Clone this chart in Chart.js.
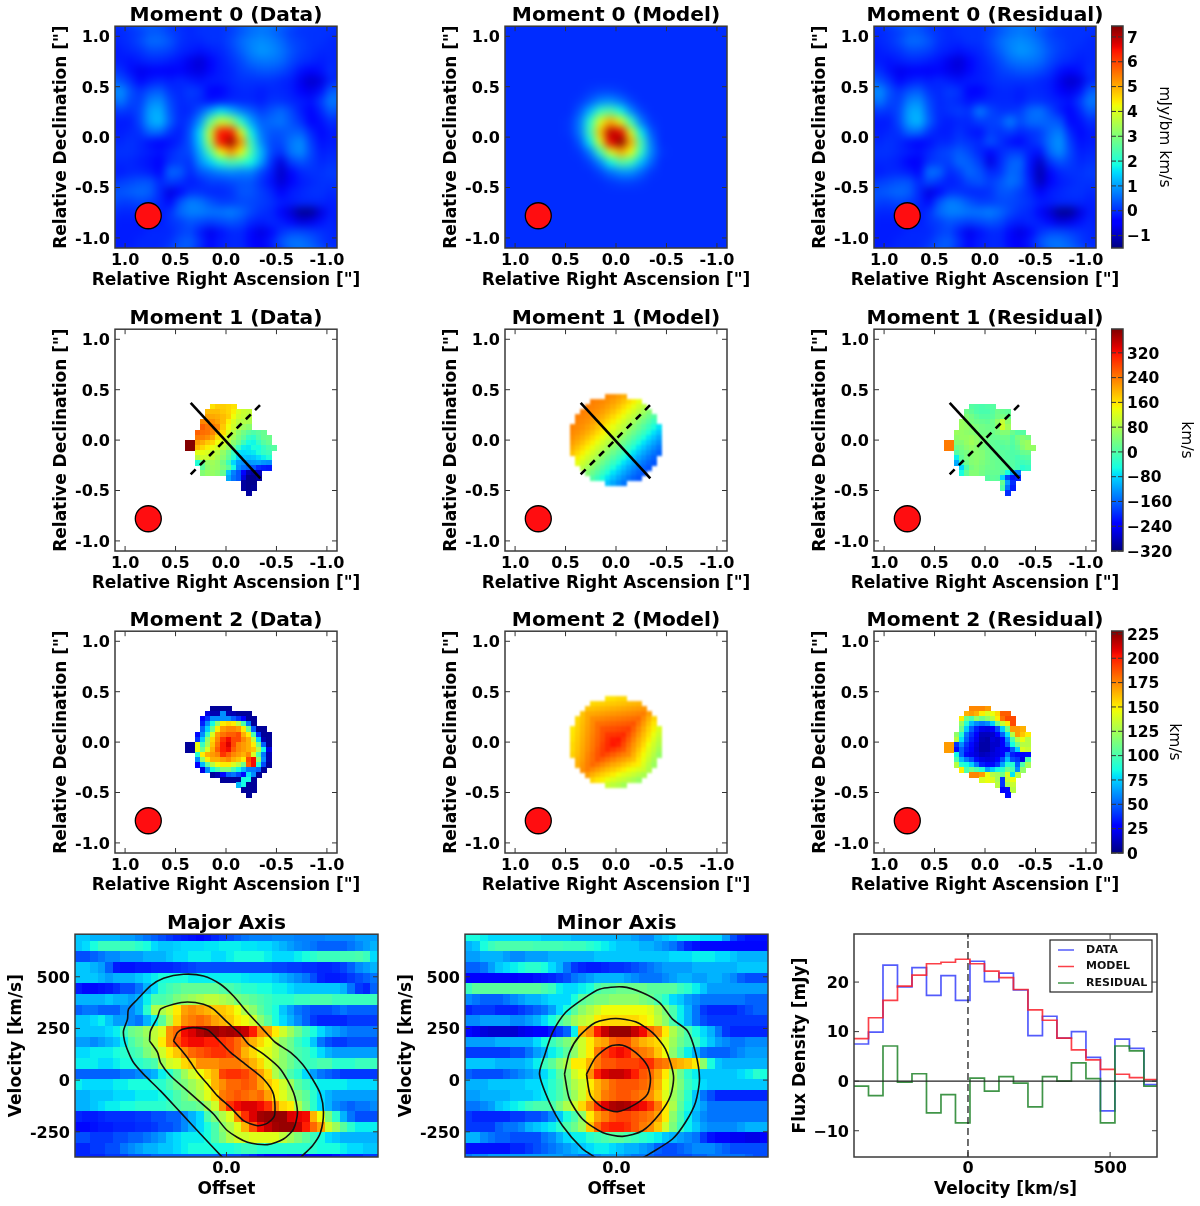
<!DOCTYPE html>
<html><head><meta charset="utf-8">
<script src="https://cdn.jsdelivr.net/npm/chart.js@4"></script>
<style>html,body{margin:0;padding:0;background:#fff}canvas{position:absolute;filter:blur(0.45px)}</style>
</head><body>
<script>
/* ---------- tick labels ---------- */
const raTicks=[1,0.5,0,-0.5,-1], decTicks=[1,0.5,0,-0.5,-1];
const velTicks=[500,250,0,-250], offsetTicks=[0];
const specXTicks=[0,500], specYTicks=[20,10,0,-10];
const cb0Ticks=[7,6,5,4,3,2,1,0,-1];
const cb1Ticks=[320,240,160,80,0,-80,-160,-240,-320];
const cb2Ticks=[225,200,175,150,125,100,75,50,25,0];
/* ---------- moment 0 maps, mJy/bm km/s, 0.1" cells from upper-left ---------- */
const mom0Baseline=0.15;
const mom0Data=[
[.1,.2,.3,.5,.5,.3,.2,.1,.2,.2,.2,.3,.5,.7,.8,.7,.5,.3,.2,.2,.2,.2],
[.1,.2,.4,.7,.7,.5,.2,.1,.1,.2,.2,.4,.7,.9,1,.9,.7,.4,.3,.2,.2,.1],
[0,.1,.2,.4,.4,.3,.1,0,-.1,0,.1,.3,.6,.9,1.1,1,.8,.5,.3,.2,.1,.1],
[0,-.1,0,.1,.1,0,-.1,-.5,-.7,-.3,0,.2,.4,.7,.8,.8,.7,.4,.2,.1,0,.1],
[.2,-.1,-.5,-.4,-.3,-.4,-.2,-.5,-.6,-.2,0,.1,.3,.4,.5,.5,.4,.2,-.1,-.3,-.1,.2],
[.5,.2,-.2,0,.1,0,.1,0,-.1,0,0,.1,.2,.2,.2,.2,.1,0,-.5,-.8,-.6,.1],
[1.1,.5,.2,.5,.6,.2,.1,.3,.2,-.3,-.3,0,.1,.1,0,.1,.1,0,-.3,-.5,-.1,.6],
[.9,.4,.3,.9,1,.4,.1,.2,.1,-.1,0,.1,.1,.1,0,.2,.2,.1,0,-.1,.3,.9],
[.3,.2,.4,1.2,1.3,.5,.1,.1,.5,1.2,1.8,1.4,.9,.6,.3,.5,.7,.4,0,-.3,.1,.6],
[0,0,.4,1.2,1.4,.6,.1,.3,1.1,2.8,4,3.6,2.2,1.2,.6,.7,.8,.5,.2,-.3,-.1,.2],
[0,.1,.2,.7,.7,.2,0,.5,1.7,4,6.6,6.6,4.2,1.9,.8,.5,.5,.6,.6,.1,-.2,0],
[.1,.2,.1,-.1,-.2,-.1,.1,.5,1.6,3.7,6.6,7.4,5.4,2.4,1,.4,.4,.8,1,.3,-.1,0],
[.2,.2,.1,0,-.1,.1,.3,.4,1.3,2.6,4.4,5.4,4.4,2.6,1.4,.4,.2,.8,1,.4,0,.1],
[.1,.1,0,-.1,-.3,.2,.3,.2,1,1.6,2.2,2.6,2.4,2,1.2,.2,-.6,.3,.5,.3,.1,.2],
[0,.1,.1,0,-.2,.7,.6,.1,.5,.7,.9,1,.9,.9,.4,0,-.8,-.2,.1,.2,.2,.3],
[.3,.4,.5,.5,.1,.3,.2,0,.1,.3,.3,.4,.5,.5,.2,-.1,-.7,-.3,0,.1,.2,.2],
[.5,.6,.7,.6,.1,-.6,-.2,.2,.2,.1,.1,.2,.5,.5,.3,.1,-.3,0,.1,.2,.2,.1],
[.3,.3,.4,.3,.1,-.2,.5,.9,.8,.5,.3,.3,.4,.4,.3,.2,0,0,.1,.1,.1,0],
[.1,.1,.1,.1,0,.2,.7,.9,.9,.8,.8,.9,.7,.4,.2,.1,-.2,-.7,-1.2,-1.2,-.6,0],
[0,0,0,0,0,.2,.3,.5,.4,.3,.4,.5,.4,.1,0,.1,0,-.2,-.6,-.5,-.1,.1],
[0,0,0,.1,.1,.1,.3,.4,0,-.5,-.1,.1,.1,-.2,-.6,-.2,.2,.4,.4,.3,.2,.1],
[0,0,.1,.1,.1,.2,.5,.6,.2,-.2,0,.1,.1,-.2,-.4,0,.5,.8,.8,.6,.3,.1]];
const mom0Model=[
[0,0,0,0,0,0,0,0,0,0,0,0,0,0,0,0,0,0,0,0,0,0],
[0,0,0,0,0,0,0,0,0,0,0,0,0,0,0,0,0,0,0,0,0,0],
[0,0,0,0,0,0,0,0,0,0,0,0,0,0,0,0,0,0,0,0,0,0],
[0,0,0,0,0,0,0,0,0,0,0,0,0,0,0,0,0,0,0,0,0,0],
[0,0,0,0,0,0,0,0,0,0,0,0,0,0,0,0,0,0,0,0,0,0],
[0,0,0,0,0,0,0,0,0,0,0,0,0,0,0,0,0,0,0,0,0,0],
[0,0,0,0,0,0,0,0,.1,.2,.2,.1,0,0,0,0,0,0,0,0,0,0],
[0,0,0,0,0,0,0,.1,.4,.8,.9,.6,.2,0,0,0,0,0,0,0,0,0],
[0,0,0,0,0,0,0,.4,1.2,2.2,2.5,1.8,.8,.2,0,0,0,0,0,0,0,0],
[0,0,0,0,0,0,.1,.7,2.1,4,5,4,2.2,.7,.1,0,0,0,0,0,0,0],
[0,0,0,0,0,0,.1,.7,2.3,4.8,7,6.6,4,1.7,.4,0,0,0,0,0,0,0],
[0,0,0,0,0,0,0,.4,1.7,4,6.6,7.4,5,2.4,.7,0,0,0,0,0,0,0],
[0,0,0,0,0,0,0,.1,.7,2.2,4,5,4.2,2.2,.8,.1,0,0,0,0,0,0],
[0,0,0,0,0,0,0,0,.2,.8,1.8,2.6,2.3,1.3,.5,0,0,0,0,0,0,0],
[0,0,0,0,0,0,0,0,0,.2,.6,.9,.9,.5,.1,0,0,0,0,0,0,0],
[0,0,0,0,0,0,0,0,0,0,.1,.2,.2,.1,0,0,0,0,0,0,0,0],
[0,0,0,0,0,0,0,0,0,0,0,0,0,0,0,0,0,0,0,0,0,0],
[0,0,0,0,0,0,0,0,0,0,0,0,0,0,0,0,0,0,0,0,0,0],
[0,0,0,0,0,0,0,0,0,0,0,0,0,0,0,0,0,0,0,0,0,0],
[0,0,0,0,0,0,0,0,0,0,0,0,0,0,0,0,0,0,0,0,0,0],
[0,0,0,0,0,0,0,0,0,0,0,0,0,0,0,0,0,0,0,0,0,0],
[0,0,0,0,0,0,0,0,0,0,0,0,0,0,0,0,0,0,0,0,0,0]];
const mom0Resid=[
[.1,.2,.3,.5,.5,.3,.2,.1,.2,.2,.2,.3,.5,.7,.8,.7,.5,.3,.2,.2,.2,.2],
[.1,.2,.4,.7,.7,.5,.2,.1,.1,.2,.2,.4,.7,.9,1,.9,.7,.4,.3,.2,.2,.1],
[0,.1,.2,.4,.4,.3,.1,0,-.1,0,.1,.3,.6,.9,1.1,1,.8,.5,.3,.2,.1,.1],
[0,-.1,0,.1,.1,0,-.1,-.5,-.7,-.3,0,.2,.4,.7,.8,.8,.7,.4,.2,.1,0,.1],
[.2,-.1,-.5,-.4,-.3,-.4,-.2,-.5,-.6,-.2,0,.1,.3,.4,.5,.5,.4,.2,-.1,-.3,-.1,.2],
[.5,.2,-.2,0,.1,0,.1,0,-.1,0,0,.1,.2,.2,.2,.2,.1,0,-.5,-.8,-.6,.1],
[1.1,.5,.2,.5,.6,.2,.1,.3,.2,-.3,-.3,0,.1,.1,0,.1,.1,0,-.3,-.5,-.1,.6],
[.9,.4,.3,.9,1,.4,.1,.2,.1,-.1,0,.1,.1,.1,0,.2,.2,.1,0,-.1,.3,.9],
[.3,.2,.4,1.2,1.3,.5,.1,.2,.3,.2,.9,.4,.2,.2,.3,.7,.8,.4,0,-.3,.1,.6],
[0,0,.4,1.2,1.4,.6,.1,0,.1,.1,.3,.3,.4,.9,.4,.7,.7,.6,.5,-.2,-.1,.2],
[0,.1,.2,.7,.7,.2,0,0,.2,0,-.1,.3,.2,.3,.1,.2,.3,.7,.9,.1,-.2,0],
[.1,.2,.1,-.1,-.2,-.1,.1,.1,.3,.2,.1,.5,.2,-.1,-.2,.1,.3,.8,1.1,.3,-.1,0],
[.2,.2,.1,0,-.1,.1,.3,.4,.6,.4,.1,-.2,.1,.3,.3,0,-.1,.7,1,.4,0,.1],
[.1,.1,0,-.3,-.4,.2,.3,.3,.7,.6,.3,-.6,.1,.6,.7,-.1,-.8,.2,.5,.3,.1,.2],
[0,.1,.1,0,-.2,.8,.7,.1,.3,.7,.5,.1,.2,.7,.6,-.1,-1,-.2,.1,.2,.2,.3],
[.3,.4,.5,.5,.1,.4,.2,0,.1,.4,.5,.3,.5,.8,.6,0,-.9,-.3,0,.1,.2,.2],
[.5,.6,.7,.6,.1,-.6,-.2,.2,.2,.1,.1,.2,.5,.5,.3,.1,-.3,0,.1,.2,.2,.1],
[.3,.3,.4,.3,.1,-.2,.5,.9,.8,.5,.3,.3,.4,.4,.3,.2,0,0,.1,.1,.1,0],
[.1,.1,.1,.1,0,.2,.7,.9,.9,.8,.8,.9,.7,.4,.2,.1,-.2,-.7,-1.2,-1.2,-.6,0],
[0,0,0,0,0,.2,.3,.5,.4,.3,.4,.5,.4,.1,0,.1,0,-.2,-.6,-.5,-.1,.1],
[0,0,0,.1,.1,.1,.3,.4,0,-.5,-.1,.1,.1,-.2,-.6,-.2,.2,.4,.4,.3,.2,.1],
[0,0,.1,.1,.1,.2,.5,.6,.2,-.2,0,.1,.1,-.2,-.4,0,.5,.8,.8,.6,.3,.1]];
/* ---------- masked maps: every row is [first column, values...]; 0.05" cells ---------- */
const mom1Data=[[0],
[7,160,175,175,170,160],
[6,190,190,190,180,170,150,120,105,100],
[6,210,205,200,190,175,140,110,100,90],
[5,230,230,225,210,190,150,120,95,85,80],
[5,260,245,240,230,180,140,110,85,65,50],
[4,260,250,245,230,195,165,120,85,55,30,10,0,10,20],
[4,240,235,225,205,165,135,100,70,40,15,-20,-30,0,20,25],
[2,395,395,215,200,180,170,140,115,85,50,25,-15,-50,-55,-25,5,20],
[2,395,395,190,170,150,135,115,90,60,25,-20,-60,-65,-45,-50,-25,-5,5],
[4,130,130,120,105,90,60,25,-25,-70,-75,-70,-65,-45,-25,-15],
[4,90,110,105,95,75,50,15,-35,-80,-90,-95,-90,-75,-60,-40],
[4,-40,20,60,70,60,30,-20,-80,-120,-130,-125,-120,-115,-125,-130],
[5,10,50,65,60,40,10,-50,-130,-150,-160,-170,-200,-210,-215],
[5,45,60,60,50,20,-90,-140,-170,-230,-290,-300,-280],
[10,-110,-150,-170,-260,-310,-310,-300],
[13,-300,-310,-310],
[13,-300,-310,-305],
[14,-300]];
const mom1Resid=[[0],
[7,5,0,-5,0,5],
[6,25,15,0,-5,-5,5,25,20,15],
[6,45,30,15,5,5,10,30,35,25],
[5,65,55,35,25,20,15,25,55,100,55],
[5,65,60,50,40,30,25,25,45,110,70],
[4,65,60,55,50,40,30,30,25,35,45,45,25,5,5],
[4,55,60,60,65,55,40,30,20,20,25,25,5,35,45,35],
[2,240,240,45,45,60,70,60,40,25,15,10,15,20,5,25,55,65],
[2,240,240,25,35,50,60,50,35,25,15,10,5,10,0,15,45,65,60],
[4,5,25,35,50,50,45,30,20,15,10,5,0,5,20,25],
[4,-60,15,35,45,50,45,30,20,15,10,5,0,-10,0,5],
[4,-110,-15,25,45,50,40,30,25,20,15,10,5,-5,-15,-10],
[5,-80,-5,35,45,35,25,25,20,15,15,5,-10,-35,-25],
[5,-50,15,45,45,30,20,20,20,5,-50,-110,-140],
[10,5,15,10,-80,-180,-215,-205],
[13,20,-120,-200],
[13,0,-150,-210],
[14,-200]];
const mom1Model=[
[7,228,222,212,200],
[4,235,232,228,222,212,200,185,168,150,132],
[3,235,232,228,222,212,200,185,168,150,132,112,92],
[2,235,232,228,222,212,200,185,168,150,132,112,92,70,48],
[1,235,232,228,222,212,200,185,168,150,132,112,92,70,48,25,3],
[1,232,228,222,212,200,185,168,150,132,112,92,70,48,25,3,-20],
[0,232,228,222,212,200,185,168,150,132,112,92,70,48,25,3,-20,-45,-70],
[0,228,222,212,200,185,168,150,132,112,92,70,48,25,3,-20,-45,-70,-92],
[0,222,212,200,185,168,150,132,112,92,70,48,25,3,-20,-45,-70,-92,-112],
[0,212,200,185,168,150,132,112,92,70,48,25,3,-20,-45,-70,-92,-112,-130],
[0,200,185,168,150,132,112,92,70,48,25,3,-20,-45,-70,-92,-112,-130,-147],
[0,185,168,150,132,112,92,70,48,25,3,-20,-45,-70,-92,-112,-130,-147,-160],
[1,150,132,112,92,70,48,25,3,-20,-45,-70,-92,-112,-130,-147,-160],
[1,132,112,92,70,48,25,3,-20,-45,-70,-92,-112,-130,-147,-160,-170],
[2,92,70,48,25,3,-20,-45,-70,-92,-112,-130,-147,-160,-170],
[3,48,25,3,-20,-45,-70,-92,-112,-130,-147,-160,-170],
[4,3,-20,-45,-70,-92,-112,-130,-147,-160,-170],
[7,-92,-112,-130,-147]];
const mom2Data=[[0],
[7,5,5,5,5],
[6,20,10,10,60,10,10,5,5,5],
[5,25,40,60,60,60,60,50,40,25,5,5],
[5,35,60,85,120,150,155,150,130,100,55,5],
[5,50,75,110,150,170,175,175,170,150,110,50,5,5],
[4,30,60,95,140,170,180,185,185,190,165,150,100,40,5,5],
[4,40,75,120,155,175,195,205,190,190,175,165,135,75,10,5],
[2,5,5,145,95,125,160,180,200,210,190,175,170,165,150,110,50,5],
[2,5,5,145,110,140,165,185,200,205,185,175,170,165,160,130,85,20],
[4,90,150,165,170,175,195,185,175,170,165,175,140,100,55,10],
[4,60,120,150,165,165,170,175,165,160,150,190,205,120,60,10],
[4,25,70,105,130,145,150,150,140,130,110,185,205,90,45,5],
[5,20,60,85,100,115,115,100,85,70,55,55,50,5],
[7,5,10,30,50,55,45,30,80,60,5],
[9,5,5,5,5,85,85,5],
[12,70,85,5,5],
[13,5,5,5],
[14,5]];
const mom2Resid=[[0],
[7,175,175,175,170],
[6,165,170,165,150,140,145,155,185,185],
[5,150,110,100,120,110,120,130,150,180,190,190],
[5,120,90,70,60,55,60,75,110,135,150,190],
[5,110,75,50,35,22,20,28,45,75,110,170,170,165],
[4,120,90,55,40,25,12,12,15,25,50,80,130,170,160,150],
[4,130,80,50,35,22,10,8,18,15,25,60,100,130,145,130],
[2,170,170,40,60,40,30,18,8,8,15,15,25,50,85,110,130,130],
[2,170,170,30,50,35,28,16,8,8,15,20,25,25,50,75,140,135],
[4,85,50,30,22,18,12,14,18,20,25,55,35,30,25,30],
[4,100,70,55,45,30,20,18,20,25,45,70,45,40,20,100],
[4,130,90,85,75,55,35,30,30,40,65,90,90,50,100,125],
[5,150,100,110,100,90,65,75,85,90,110,100,60,120],
[7,175,175,170,145,130,125,110,140,80,130],
[9,140,145,140,125,40,135,145],
[12,130,40,125,135],
[13,25,30,130],
[14,30]];
const mom2Model=[
[7,152,153,155,155],
[4,155,156,157,158,159,160,161,162,163,164],
[3,160,161,162,163,164,165,166,167,168,169,170,171],
[2,160,166,167,168,169,170,171,172,173,174,175,176,177,169],
[1,155,161,167,173,174,175,176,177,178,179,180,181,182,174,165,156],
[1,156,162,168,174,180,181,182,183,184,185,186,187,179,170,161,152],
[0,151,157,163,169,175,181,187,188,189,190,191,192,184,175,166,157,149,140],
[0,152,158,164,170,176,182,188,194,195,196,197,189,180,171,162,154,145,136],
[0,153,159,165,171,177,183,189,196,201,202,194,185,176,167,159,150,141,132],
[0,155,160,166,172,178,184,191,197,202,199,190,181,172,164,155,146,137,129],
[0,155,161,167,173,179,186,192,197,194,190,186,177,169,160,151,142,134,125],
[0,157,162,168,175,181,187,192,189,185,181,177,174,165,156,147,139,130,121],
[1,164,169,176,181,187,184,180,176,172,169,165,161,152,144,135,126],
[1,165,171,177,182,179,175,171,167,164,160,156,152,149,140,131,123],
[2,172,177,174,170,166,162,159,155,151,147,144,140,136,128],
[3,169,165,161,157,154,150,146,142,139,135,131,127],
[4,156,152,149,145,141,137,134,130,126,122],
[7,136,132,129,125]];
/* ---------- position-velocity slices, relative intensity 0-10 ---------- */
const pvVelocity=[700,648,597,545,494,442,390,339,287,236,184,132,81,29,-22,-74,-126,-177,-229,-280,-332,-384];
const pvMajor=[
[3.2,3.2,3,3,3,3,2.8,2.8,2.6,2.4,2.2,2,1.8,1.6,1.5,1.4,1.3,1.4,1.6,1.8,2,2.2,2.4,2.5,2.5,2.5,2.6,2.6,2.6,2.5,2.5,2.5,2.5,2.6,2.6,2.6,2.6,2.8,2.8,2.8],
[3.2,3.4,3.8,4.2,4.2,4.2,4.2,4.2,4,3.8,3.4,3.2,3.2,3.3,3.4,3.4,3.4,3.5,3.5,3.6,3.6,3.6,3.5,3.5,3.4,3.4,3.2,3,2.8,2.6,2.5,2.4,2.2,2.2,2.2,2.2,2.4,2.6,2.8,3],
[2,2,2.2,2.4,2.6,2.6,2.8,2.8,2.8,3,3,3,3.2,3.4,3.4,3.6,3.6,3.6,3.4,3.4,3.6,3.8,3.8,3.8,3.8,3.6,3.4,3.4,3.4,3.6,3.8,4,4.2,4.2,4.2,4.3,4.3,4.4,4.2,3.4],
[3.2,3.2,3,2.8,2.2,1.5,1.4,1.4,1.5,1.5,1.6,1.6,1.6,1.7,1.8,1.9,2,2,2,2,2,2,2,2,2,2,1.9,1.9,1.8,1.8,1.7,1.7,1.6,1.6,1.7,1.9,2.2,2.6,2.8,3],
[3.2,3.2,3.2,3,2.8,3,3,3,3.2,3.4,3.6,3.8,3.8,3.8,3.8,3.6,3.6,3.6,3.6,3.6,3.6,3.6,3.5,3.4,3.4,3.4,3.2,3,2.8,2.6,2.4,2,1.6,1.5,1.5,1.6,1.8,2,2.2,2.4],
[1.5,1.3,1.3,1.4,1.5,1.7,2,2,2.4,3,3.4,4,4.3,4.5,4.7,4.7,4.7,4.7,4.7,4.5,4.4,4.2,4,4,3.8,3.8,3.6,3.6,3.4,3.2,3.2,3.2,3.2,3.2,3.2,3,2.4,1.8,1.6,2.2],
[3,3,3,3,3.2,3,3,2.8,3,3.6,4.4,4.4,4.6,5,5.2,5.4,5.6,5.8,5.8,5.6,5.4,5,4.8,4.6,4.4,4.2,4,4,4,4.2,4.2,4.4,4.4,4.4,4.2,4.2,4.2,4.2,4.2,4.2],
[2.2,2.4,2.4,2.2,2.2,2.2,2.6,2.6,3,4,5.6,5.6,6,6.6,7.4,7.6,7.4,7.2,7,7,6.8,6.4,5.6,5.2,4.6,4.2,3.8,3.2,2.8,2.4,2.2,2,2,2,2.2,2.4,2.2,2.2,2.2,2.2],
[3.2,3.2,3.4,3.6,3.2,2.8,2.8,2.6,2.4,3,3.6,4.6,5.6,6.8,7.6,7.8,8,7.8,7.4,7.2,7,6.6,6.4,6,5.2,4.6,3.8,3.4,3,2.6,2.2,1.8,1.6,1.6,1.6,1.6,1.8,1.8,1.8,1.8],
[3.2,3.2,3.2,3.2,3.4,3.6,4.2,4.8,5,5.4,5.8,6.2,7.6,8,9,9.2,9.6,9.8,9.8,9.6,9.7,9.6,9.4,8.8,7.6,7.4,6.6,6,5.4,4.8,4.2,3.8,3.4,3,2.8,2.6,2.4,2.4,2.4,2.4],
[2.8,2.8,2.6,2.8,3,3.2,3.6,4.4,4.8,5.2,5.8,6.6,7.6,8.2,8.8,9,9,8.8,8.8,8.6,8.4,8,7.6,7.2,6.8,6.4,5.8,5.2,4.8,4.2,3.8,3.2,2.4,2,1.8,1.8,2,2,2,2],
[3.4,3.4,3.6,3.6,3.6,3.8,4,4.2,4.4,5,5.4,6,6.6,7,7.6,8,8.2,8.4,8.6,8.6,8.4,8,7.2,6.8,6.4,6.2,5.8,5.2,4.8,4.4,4.2,3.8,3.4,3,2.8,2.8,2.8,2.8,2.8,2.8],
[3.6,3.6,3.6,3.4,3.4,3.6,3.8,3.8,4,4.2,4.4,5.4,6,6.2,6.8,7,7.6,7.6,7.6,7.8,7.8,7.8,7.6,7.2,6.8,6.2,5.6,5.2,4.8,4.4,4.2,4.2,4.4,4.4,4,4,4,4.2,4.2,4.2],
[2.2,2.2,2.2,2.2,2.2,2.2,2.4,2.4,2.6,2.8,3,3.6,4,4.6,5.4,6,6.4,6.8,7.2,8.4,8.6,8.6,8.4,8,7.4,6.8,5.6,5,4.4,4,3.4,2.8,2.4,2.2,2,1.8,1.8,1.8,1.8,1.8],
[3.6,3.4,3.4,3.4,3.4,3.6,3.6,3.8,3.8,3.8,4,4,4.4,4.8,5,5.4,5.8,6.4,7.2,7.6,8,8,8.2,8,7.4,7,6.6,6,5.4,4.6,4.2,3.8,3.6,3.6,3.6,3.6,3.4,3.4,3.4,3.4],
[3,3,3.2,3.2,3.2,3.4,3.4,3.4,3.6,3.6,3.6,3.8,4,4.4,4.8,5.2,5.6,6.2,6.8,7.8,8,8.2,8,7.8,8,7.4,6.6,6.2,5.6,5,4.6,4,3.4,3,2.8,2.8,2.8,2.8,2.8,2.8],
[3,3,3.2,3.4,3.6,3.6,3.8,3.8,4,4,4,4,4.2,4.4,4.6,4.6,4.8,5.4,6,7.6,8.6,9,9.2,9.2,9,8.6,7.6,6.8,6.6,5.6,4.8,4,3.4,3,2.6,2.4,2.2,2.4,2.4,2.6],
[1.6,1.5,1.5,1.6,1.7,1.7,1.7,1.7,1.8,1.8,2,2,2.2,2.2,2.6,3,3.4,4.4,5,5.6,6.2,7.6,8.6,9.2,9.7,9.8,9.8,9.8,9.2,9.1,9,7.2,6.4,5,4,3,2.4,2,2,2],
[1.3,1.3,1.4,1.5,1.5,1.6,1.6,1.6,1.7,1.7,1.8,2,2,2.2,2.6,3,3.4,3.8,4.4,5.2,5.6,6.2,7.2,8.2,9,9.4,9.7,9.8,9.8,9.4,8.8,8,7.4,6,5.4,4.6,4,3.6,3.6,3.6],
[2,2,1.8,1.8,1.8,2,2,2.2,2.2,2.4,2.6,2.8,3.2,3.4,3.6,3.6,3.6,3.8,4.4,5,5.6,6,6,6.2,6.2,6.2,6.2,5.8,5.4,5,4.6,4.2,3.8,3.4,3.2,3,3,3,3,3],
[1.6,1.6,1.8,1.8,2,2,2.4,2.6,2.8,3,3,3.2,3.2,3.4,3.6,3.8,3.8,3.8,3.8,3.8,3.8,4,4.2,4.2,4,4,4,4,4,4,4,4,3.8,3.8,3.8,3.6,3.4,3.4,3.2,3.2],
[1.6,1.6,1.6,1.6,1.8,1.8,1.8,2,2,2,2.2,2.2,2.2,2.2,2.2,2.2,2.2,2.2,2.2,2,2,2,1.8,1.6,1.4,1.2,1.2,1.1,1,1,1,1.1,1.2,1.2,1.4,1.6,1.6,1.6,1.8,1.8]];
const pvMinor=[
[3.8,3.8,3.6,3.4,3.4,3.4,3.4,3.4,3.4,3.4,3.2,3.2,3.2,3.2,3,3,3,3,3,3,3,3,2.8,2.6,2.6,3,3.2,3.4,3.6,3.6,3.6,3.4,3.4,3.4,2.8,2,1.6,1.4,1.4,1.4],
[3,3.2,3.8,4.2,4.4,4.4,4.4,4.4,4.4,4.3,4.3,4.3,4.3,4.2,4.2,4.2,4,3.8,3.6,3.4,3.2,3.2,3.2,3,3,2.8,2.6,2.4,2,1.6,1.4,1.3,1.3,1.3,1.3,1.3,1.3,1.3,1.3,1.3],
[2.8,2.8,3,3,3,2.8,2.6,2.6,2.8,2.8,2.8,3,3,3,3,3,3,3.2,3.2,3.2,3.2,3.2,3.2,3.2,3.2,3.2,3.2,3.4,3.4,3.4,3.6,3.6,3.6,3.4,3.4,3.2,3,3,3,3],
[2.2,2.2,2.4,2.8,3.2,3.4,3.6,3.8,4,4,3.8,3.4,3,2.4,1.8,1.6,1.5,1.5,1.6,1.7,1.7,1.8,2,2.2,2.4,2.6,2.8,2.8,2.8,2.8,3,3,3,3,3,3,3.2,3.2,3.2,3.2],
[1.2,1.2,1.2,1.2,1.2,1.2,1.2,1.3,1.3,1.4,1.5,1.6,1.8,2,2.4,2.6,2.8,3,3,3,3,2.8,2.6,2.4,2.4,2.4,2.6,2.8,3,3,2.8,2.8,3,3,2.8,2.6,2.2,2,2,2],
[4.2,4.6,4.6,4.6,4.6,4.6,4.6,4.6,4.6,4.6,4.4,4.2,3.6,3.4,3.4,3.6,3.8,4.4,4.6,4.6,4.8,4.8,4.8,4.8,4.6,4.6,4.6,4.6,4.2,4,3.6,3.2,2.8,2.8,2.8,2.8,2.8,2.8,2.8,2.8],
[2.6,2.4,2.2,2.2,2.2,2.4,2.6,2.8,3,3,3.2,3.4,3.4,3.4,3.8,4.6,4.8,5,5,5.2,5.2,5.2,5.2,5,4.8,4.4,4,3.4,3.2,2.8,2.6,2.4,2.4,2.4,2.4,2.4,2.4,2.2,2.2,2.2],
[1.6,1.8,1.8,1.8,1.6,1.6,1.6,1.8,2,2.2,2.4,2.8,3.4,3.8,4.6,5.2,5.6,6,6.4,6.4,6.4,6.4,6.4,6.4,6.2,5.6,5,4.4,3.6,3,2.4,1.8,1.6,1.6,1.6,1.6,1.8,2,2.2,2.2],
[2.6,2.6,2.8,2.8,2.8,2.8,2.6,2.6,2.8,3,3.4,3.8,4.4,4.8,5.4,5.8,6,6.6,6.8,6.8,6.8,6.8,6.8,6.6,6.4,5.8,5.2,4.4,3.6,3,2.4,2,1.8,1.8,1.8,1.8,1.8,1.8,1.8,1.8],
[1.3,1,.8,.7,.7,.7,.7,.9,1,1.2,1.2,1.5,1.8,2.2,3.6,7.2,7.6,8.8,9.4,9.8,9.8,9.8,9.4,9,8,7.6,6.6,5.6,5,4.4,3.8,3.4,3,2.4,1.8,1.6,1.6,1.6,1.6,1.6],
[2.8,2.8,2.8,2.8,3,3,3,3,3,3.4,3.8,4.2,4.6,5,5.4,6,6.6,7.2,7.4,8,8.2,8.2,7.6,7.2,7,6.8,6.2,5.4,4.8,4.4,4.2,3.6,3.2,2.8,2.6,2.4,2.4,2.6,2.6,2.6],
[1.8,1.8,1.8,1.8,1.8,1.8,2,2,2.4,2.8,3,3.6,4,4.6,5.2,6,6.6,7.8,8.4,8.8,9,8.8,8,7.8,7.6,7,6.4,5.2,4.4,3.6,3,2.4,2.2,2.2,2.2,2.4,2.6,2.8,2.8,2.8],
[3.2,3.2,3.2,3.2,3,3,3,3,3.2,3.6,4.2,4.6,5.2,5.6,6.6,6.6,7.2,7.8,8.2,8.2,8.4,8.4,8.4,8.6,8.6,8,7.8,7.4,7.2,7,6.6,5.2,3.8,3.2,3,3,3,3,3,3],
[2.2,2,2,2,2,2.2,2.4,2.6,2.8,3,3.4,3.8,4.6,5,6,6.4,7.6,8.8,9.2,9.4,9.4,9.2,8.8,8.2,8,7.4,6.6,5.6,4.8,4,3.6,3.2,3.2,3.2,3.2,3.2,3.4,3.6,4,3.8],
[3,3,3,3.2,3.2,3.2,3.2,3.2,3.4,3.4,3.6,4,4.4,5,5.6,6,6.6,7.2,7.6,8,8.2,8.2,8.2,8,7.8,7.2,6.4,5.6,5,4.2,3.8,3.4,3.2,3.2,3.2,3.2,3.2,3.2,3.2,3.2],
[2.8,2.8,3,3,3,3,3.2,3.2,3.2,3.4,3.6,4,4.4,4.8,5.4,6,6.8,7.2,7.8,8,8.2,8.2,8,7.8,7.6,7,6.2,5.4,4.8,4,3.2,2.4,2,1.6,1.6,1.6,1.6,1.6,1.6,1.6],
[2.4,2.4,2.6,2.8,3.2,3.4,3.6,3.8,4.2,4.4,4.4,4.4,5,5.6,6,6.8,7.6,8.6,9.2,9.6,9.7,9.6,9.2,9,8.6,7.8,6.6,5.6,4.6,3.8,3.2,2.8,2.4,2.4,2.4,2.4,2.4,2.4,2.4,2.4],
[1.8,1.6,1.6,1.6,1.6,1.6,1.8,1.8,2,2,2.2,2.6,3.2,3.8,4.4,5.2,6.6,7.4,7.8,8.2,8.4,8.4,8.2,8,7.8,7.4,6.6,5.2,4.4,3.6,3,2.6,2.4,2.4,2.4,2.4,2.4,2.4,2.4,2.4],
[1.8,1.8,1.8,1.8,2.2,2.4,2.4,2.6,3,3.2,3.4,3.6,4,4.4,4.8,5.4,7,8,8.6,8.8,8.8,8.6,8.2,7.8,7.6,7,6,5,4.2,3.6,3.2,2.8,2.6,2.6,2.6,2.6,2.8,3,3,3],
[3,3,2.6,2.4,2.2,2.2,2,2,2,2,2.4,2.6,3,3.4,3.6,3.6,4,4.2,4.4,4.6,4.6,4.4,4.2,4,3.8,3.6,3.2,3,2.8,2.6,2.4,1.8,1.4,1.2,1.1,1,1,.9,.9,1.2],
[1.4,1.4,1.4,1.4,1.4,1.4,1.6,1.6,1.8,2,2.2,2.4,2.6,2.8,3,3.2,3.4,3.6,3.6,3.4,3.2,3,3,2.8,2.6,2.2,2,2,2.2,2.4,2.6,2.6,2.6,2.4,2.2,2,2,2,2,2],
[2.4,2.6,2.6,2.8,2.8,2.8,2.8,2.8,2.8,2.8,2.8,2.8,2.8,2.6,2.6,2.4,2.4,2.6,2.8,2.8,2.8,2.6,2.4,2.4,2.2,2,2,2,2,2,2.2,2.2,2.4,2.4,2.4,2.4,2.4,2.2,2,2]];
/* ---------- contours: [offset, velocity] ---------- */
const majorOuter=[[-0.04,-374],[-0.26,-261],[-0.46,-156],[-0.66,-52],[-0.83,29],[-0.93,85],[-0.98,134],[-1.02,190],[-1.03,238],[-0.99,295],[-0.98,343],[-0.89,391],[-0.76,456],[-0.63,493],[-0.43,512],[-0.23,504],[-0.06,464],[0.07,407],[0.21,327],[0.32,270],[0.41,222],[0.49,182],[0.64,134],[0.76,77],[0.86,5],[0.94,-68],[0.97,-156],[0.94,-253],[0.86,-317],[0.74,-374]];
const majorMiddle=[[-0.77,190],[-0.76,238],[-0.69,303],[-0.66,343],[-0.53,367],[-0.39,378],[-0.23,367],[-0.13,343],[0.01,279],[0.14,222],[0.22,174],[0.37,126],[0.54,53],[0.67,-60],[0.71,-156],[0.67,-237],[0.57,-285],[0.41,-312],[0.21,-301],[0.01,-245],[-0.13,-164],[-0.26,-108],[-0.39,-52],[-0.56,21],[-0.66,85],[-0.69,134],[-0.77,190]];
const majorInner=[[-0.53,190],[-0.49,230],[-0.44,246],[-0.33,254],[-0.19,243],[-0.09,198],[0.04,134],[0.21,69],[0.37,5],[0.47,-68],[0.48,-172],[0.41,-208],[0.31,-221],[0.17,-196],[0.04,-132],[-0.09,-76],[-0.19,-19],[-0.29,37],[-0.38,101],[-0.46,150],[-0.53,190]];
const minorOuter=[[-0.21,-374],[-0.34,-333],[-0.54,-221],[-0.67,-108],[-0.77,29],[-0.72,118],[-0.64,230],[-0.51,327],[-0.34,391],[-0.17,440],[0.06,451],[0.26,423],[0.43,375],[0.56,295],[0.71,238],[0.79,134],[0.83,5],[0.79,-108],[0.69,-204],[0.56,-285],[0.33,-357],[0.21,-390]];
const minorMiddle=[[-0.52,29],[-0.47,134],[-0.37,214],[-0.21,279],[-0.01,298],[0.19,282],[0.36,230],[0.49,150],[0.57,21],[0.54,-76],[0.43,-164],[0.26,-245],[0.06,-272],[-0.14,-253],[-0.34,-188],[-0.47,-92],[-0.52,29]];
const minorInner=[[-0.30,29],[-0.21,109],[-0.07,163],[0.06,169],[0.19,134],[0.31,69],[0.34,5],[0.31,-68],[0.19,-116],[0.01,-153],[-0.14,-132],[-0.26,-76],[-0.30,29]];
/* ---------- spectrum ---------- */
const channelEdges=[-401,-350,-299,-248,-197,-146,-95,-44,7,58,109,160,211,262,313,364,415,466,517,568,619,670];
const specData=[7.5,9.9,23.4,19.0,22.9,17.3,21.3,16.3,24.2,20.1,21.8,18.4,9.2,13.1,8.7,10.0,4.8,-6.0,8.5,6.6,-0.7];
const specModel=[8.6,12.8,16.3,19.2,21.4,23.7,24.0,24.6,23.7,22.2,20.9,18.5,14.4,12.3,8.7,6.3,4.3,2.4,1.4,0.7,0.3];
const specResid=[-1.0,-2.9,7.1,-0.2,1.5,-6.4,-2.7,-8.4,0.6,-2.0,0.9,-0.4,-5.2,0.9,0.0,3.7,0.5,-8.4,7.1,6.1,-1.0];
const legendNames=['DATA','MODEL','RESIDUAL'];
const legendColors=['rgba(40,50,250,.8)','rgba(250,30,40,.85)','rgba(30,130,40,.85)'];
/* ---------- overlays ---------- */
const beamCenter={x:0.77,y:-0.78};
const majorAxisLine=[{x:0.35,y:0.37},{x:-0.34,y:-0.38}];
const minorAxisLine=[{x:0.35,y:-0.34},{x:-0.36,y:0.37}];

/* ---------- helpers ---------- */
const FONT='"DejaVu Sans"';
/* text sits a little lower in the reference than the browser's "middle" baseline */
const nativeFill=CanvasRenderingContext2D.prototype.fillText;
CanvasRenderingContext2D.prototype.fillText=function(t,x,y,m){return m===undefined?nativeFill.call(this,t,x,y+1.7):nativeFill.call(this,t,x,y+1.7,m);};
Chart.defaults.animation=false;Chart.defaults.events=[];Chart.defaults.font.family=FONT;Chart.defaults.color='#000';
function jet(f){f=Math.max(0,Math.min(1,f));
 const seg=(p)=>{for(let i=1;i<p.length;i++)if(f<=p[i][0]){const a=p[i-1],b=p[i];return a[1]+(b[1]-a[1])*(f-a[0])/(b[0]-a[0]);}return p[p.length-1][1];};
 const r=seg([[0,0],[.35,0],[.66,1],[.89,1],[1,.5]]),g=seg([[0,0],[.125,0],[.375,1],[.64,1],[.91,0],[1,0]]),b=seg([[0,.5],[.11,1],[.34,1],[.65,0],[1,0]]);
 return `rgb(${Math.round(r*255)},${Math.round(g*255)},${Math.round(b*255)})`;}
const cellCache=new Map();
function cellImage(color,w,h){const k=color+w+'x'+h;if(cellCache.has(k))return cellCache.get(k);
 const c=document.createElement('canvas');c.width=w;c.height=h;const x=c.getContext('2d');x.fillStyle=color;x.fillRect(0,0,w,h);cellCache.set(k,c);return c;}
function heatSet(points,vmin,vmax,w,h){
 return {data:points,order:10,clip:0,showLine:false,pointRadius:9,pointHoverRadius:9,pointBorderWidth:0,
  pointStyle:c=>c.raw?cellImage(jet((c.raw.v-vmin)/(vmax-vmin)),w,h):'rect'};}
function gridPoints(rows,x0,dx,y0,dy,base){const out=[];rows.forEach((row,r)=>row.forEach((v,c)=>out.push({x:x0+dx*c,y:y0+dy*r,v:v-base})));return out;}
function sparsePoints(rows,x0,dx,y0,dy){const out=[];rows.forEach((row,r)=>{const s=row[0];for(let i=1;i<row.length;i++)out.push({x:x0+dx*(s+i-1),y:y0+dy*r,v:row[i]});});return out;}
function lineSet(data,color,width,extra){return Object.assign({data,showLine:true,pointRadius:0,borderColor:color,borderWidth:width,clip:0,order:1,fill:false},extra||{});}
function ptsFrom(pairs){return pairs.map(p=>({x:p[0],y:p[1]}));}

const framePlugin={id:'frame',afterDraw(ch){const a=ch.chartArea,x=ch.ctx;x.save();x.strokeStyle='#333';x.lineWidth=1;
 const tl=5;
 const sx=ch.scales.x,sy=ch.scales.y;x.beginPath();
 if(sx&&sx.options.display)sx.ticks.forEach(t=>{const p=sx.getPixelForValue(t.value);x.moveTo(p,a.bottom);x.lineTo(p,a.bottom-tl);x.moveTo(p,a.top);x.lineTo(p,a.top+tl);});
 if(sy&&sy.options.display)sy.ticks.forEach(t=>{const p=sy.getPixelForValue(t.value);x.moveTo(a.left,p);x.lineTo(a.left+tl,p);x.moveTo(a.right,p);x.lineTo(a.right-tl,p);});
 x.stroke();x.strokeStyle='#3a3a3a';x.lineWidth=1.5;x.strokeRect(a.left,a.top,a.width,a.height);x.restore();}};
const blurPlugin={id:'heatBlur',afterDatasetDraw(ch,args,opts){if(args.index!==0||!opts.radius)return;
 const a=ch.chartArea,m=14,t=document.createElement('canvas');t.width=a.width+2*m;t.height=a.height+2*m;const c=t.getContext('2d');
 if(opts.fillEdges)c.drawImage(ch.canvas,a.left,a.top,a.width,a.height,0,0,t.width,t.height);
 c.drawImage(ch.canvas,a.left,a.top,a.width,a.height,m,m,a.width,a.height);
 const x=ch.ctx;x.save();x.beginPath();x.rect(a.left,a.top,a.width,a.height);x.clip();
 if(!opts.fillEdges)x.clearRect(a.left,a.top,a.width,a.height);
 x.filter=`blur(${opts.radius}px)`;x.drawImage(t,a.left-m,a.top-m);x.restore();}};
const xLabelPlugin={id:'xLabel',afterDraw(ch,args,opts){if(!opts.text)return;const x=ch.ctx,a=ch.chartArea;x.save();
 x.font='bold 17px '+FONT;x.fillStyle='#000';x.textAlign='center';x.textBaseline='middle';
 x.fillText(opts.text,(a.left+a.right)/2,a.bottom+30.5);x.restore();}};
const gradientPlugin={id:'barRamp',beforeDatasetsDraw(ch){const a=ch.chartArea,x=ch.ctx,g=x.createLinearGradient(0,a.bottom,0,a.top);
 for(let i=0;i<=64;i++)g.addColorStop(i/64,jet(i/64));x.fillStyle=g;x.fillRect(a.left,a.top,a.width,a.height);}};
const legendPlugin={id:'boxLegend',afterDraw(ch){const x=ch.ctx,a=ch.chartArea,bx=a.left+196,by=a.top+6,bw=102,bh=52;x.save();
 x.fillStyle='#fff';x.fillRect(bx,by,bw,bh);x.strokeStyle='#222';x.lineWidth=1.2;x.strokeRect(bx,by,bw,bh);
 x.font='bold 11px '+FONT;x.textBaseline='middle';x.textAlign='left';
 legendNames.forEach((n,i)=>{const y=by+10+i*16.5;x.strokeStyle=legendColors[i];x.lineWidth=1.5;x.beginPath();x.moveTo(bx+8,y);x.lineTo(bx+24,y);x.stroke();x.fillStyle='#111';x.fillText(n,bx+36,y-1.7);});
 x.restore();}};

function axis(cfg){
 const isX=cfg.pos==='bottom';
 return {type:'linear',position:cfg.pos,min:cfg.min,max:cfg.max,reverse:!!cfg.reverse,display:cfg.display!==false,
  grid:{display:false,drawTicks:false},border:{display:false},
  ticks:{autoSkip:false,maxRotation:0,minRotation:0,padding:cfg.padding,color:'#000',font:{size:cfg.tickSize||16,weight:'bold',lineHeight:1},
   callback:v=>cfg.labels[cfg.ticks.indexOf(v)]},
  title:cfg.title?{display:true,text:cfg.title,padding:{top:0,bottom:cfg.titleBottom||0},color:'#000',font:cfg.titleFont||{size:17,weight:'bold',lineHeight:1}}:{display:false},
  afterBuildTicks:s=>{s.ticks=cfg.ticks.map(v=>({value:v}));},
  afterFit:s=>{if(isX)s.height=cfg.size;else s.width=cfg.size;}};
}
function panel(o){
 const c=document.createElement('canvas');document.body.appendChild(c);
 const titleH=o.title?22:0;
 const rightPad=o.rightPad===undefined?o.yW:o.rightPad;
 c.width=o.yW+o.w+rightPad;c.height=titleH+o.h+o.xH+(o.extraH||0);
 const ch=new Chart(c,{type:'scatter',data:{datasets:o.datasets},plugins:o.plugins||[framePlugin],
  options:{responsive:false,devicePixelRatio:1,animation:false,events:[],
   layout:{autoPadding:false,padding:0},
   scales:{x:o.x,y:o.y,pad:{type:'linear',position:'right',display:true,ticks:{display:false},grid:{display:false,drawTicks:false},border:{display:false},afterFit:s=>{s.width=rightPad;}}},
   plugins:{legend:{display:false},tooltip:{enabled:false},heatBlur:{radius:o.blur||0,fillEdges:!!o.fillEdges},xLabel:{text:o.xLabel||''},
    title:o.title?{display:true,text:o.title,color:'#000',padding:{top:0,bottom:2},font:{size:20.2,weight:'bold',lineHeight:1}}:{display:false}}}});
 c.style.left=(o.left-ch.chartArea.left)+'px';
 c.style.top=(o.top-ch.chartArea.top)+'px';
 return ch;
}
const raLabels=['1.0','0.5','0.0','-0.5','-1.0'];
function skyPanel(left,top,title,sets,blur,fillEdges){
 const beam={data:[beamCenter],showLine:false,clip:0,order:0,pointRadius:13,pointBackgroundColor:'#ff0d10',pointBorderColor:'#000',pointBorderWidth:1.3,pointStyle:'circle'};
 panel({left,top,w:222,h:222,yW:64,xH:41,title,blur,fillEdges,xLabel:'Relative Right Ascension ["]',datasets:sets.concat([beam]),
  plugins:[blurPlugin,framePlugin,xLabelPlugin],
  x:axis({pos:'bottom',min:-1.1,max:1.1,reverse:true,ticks:raTicks,labels:raLabels,size:41,padding:3}),
  y:axis({pos:'left',min:-1.1,max:1.1,ticks:decTicks,labels:raLabels,title:'Relative Declination ["]',size:64,padding:5})});
}
function axisLines(){return [lineSet(majorAxisLine,'#000',2.6),lineSet(minorAxisLine,'#000',2.6,{borderDash:[7,6]})];}
function colorbar(top,min,max,ticks,labels,text,titleX){
 const w=titleX+8-1123;
 const c=document.createElement('canvas');document.body.appendChild(c);
 c.width=12+w;c.height=222+24;c.style.left='1111px';c.style.top=(top-12)+'px';
 new Chart(c,{type:'scatter',data:{datasets:[{data:[]}]},plugins:[gradientPlugin,framePlugin],
  options:{responsive:false,devicePixelRatio:1,animation:false,events:[],layout:{autoPadding:false,padding:{top:12,bottom:12}},
   scales:{x:{type:'linear',display:false,min:0,max:1},
    y:axis({pos:'right',min,max,ticks,labels,title:text,size:w,padding:4,tickSize:15.5,titleFont:{size:15.5,weight:'normal',lineHeight:1}})},
   plugins:{legend:{display:false},tooltip:{enabled:false}}}});
}

/* ---------- moment panels ---------- */
const colL=[115,505,874],rowT=[26,329,631];
const V0=[-1.5,7.44],V1=[-320,397],V2=[0,228];
const sq=(pts,v)=>heatSet(pts,v[0],v[1],6,6);
const m0=(g,b)=>heatSet(gridPoints(g,1.05,-.1,1.05,-.1,b),V0[0],V0[1],11,11);
skyPanel(colL[0],rowT[0],'Moment 0 (Data)',[m0(mom0Data,mom0Baseline)],4,true);
skyPanel(colL[1],rowT[0],'Moment 0 (Model)',[m0(mom0Model,0)],4,true);
skyPanel(colL[2],rowT[0],'Moment 0 (Residual)',[m0(mom0Resid,mom0Baseline)],4,true);
const dataGrid=r=>sparsePoints(r,.475,-.05,.375,-.05), modelGrid=r=>sparsePoints(r,.425,-.05,.425,-.05);
skyPanel(colL[0],rowT[1],'Moment 1 (Data)',[sq(dataGrid(mom1Data),V1),...axisLines()]);
skyPanel(colL[1],rowT[1],'Moment 1 (Model)',[sq(modelGrid(mom1Model),V1),...axisLines()],1.2);
skyPanel(colL[2],rowT[1],'Moment 1 (Residual)',[sq(dataGrid(mom1Resid),V1),...axisLines()]);
skyPanel(colL[0],rowT[2],'Moment 2 (Data)',[sq(dataGrid(mom2Data),V2)]);
skyPanel(colL[1],rowT[2],'Moment 2 (Model)',[sq(modelGrid(mom2Model),V2)],1.2);
skyPanel(colL[2],rowT[2],'Moment 2 (Residual)',[sq(dataGrid(mom2Resid),V2)]);
colorbar(rowT[0],V0[0],V0[1],cb0Ticks,['7','6','5','4','3','2','1','0','\u22121'],'mJy/bm km/s',1165);
colorbar(rowT[1],V1[0],V1[1],cb1Ticks,['320','240','160','80','0','\u221280','\u2212160','\u2212240','\u2212320'],'km/s',1187);
colorbar(rowT[2],V2[0],V2[1],cb2Ticks,cb2Ticks.map(String),'km/s',1175);

/* ---------- position-velocity panels ---------- */
function pvPoints(rows){const out=[];rows.forEach((row,r)=>row.forEach((v,c)=>out.push({x:-1.515+.07575*(c+.5),y:pvVelocity[r],v})));return out;}
function pvPanel(left,title,rows,cs){
 panel({left,top:934,w:303,h:223,yW:69,xH:39,title,
  datasets:[heatSet(pvPoints(rows),0,10,8,11),...cs.map(k=>lineSet(ptsFrom(k),'#111',1.6,{tension:.25}))],
  x:axis({pos:'bottom',min:-1.515,max:1.515,ticks:offsetTicks,labels:['0.0'],title:'Offset',size:39,padding:2}),
  y:axis({pos:'left',min:-372,max:706,ticks:velTicks,labels:['500','250','0','-250'],title:'Velocity [km/s]',size:69,padding:5})});
}
pvPanel(75,'Major Axis',pvMajor,[majorOuter,majorMiddle,majorInner]);
pvPanel(464.5,'Minor Axis',pvMinor,[minorOuter,minorMiddle,minorInner]);

/* ---------- spectrum ---------- */
function stepPts(v){const p=v.map((y,i)=>({x:channelEdges[i],y}));p.push({x:channelEdges[v.length],y:v[v.length-1]});return p;}
panel({left:854,top:934,w:303,h:223,yW:64,xH:45,extraH:13,rightPad:20,
 plugins:[framePlugin,legendPlugin],
 datasets:[
  lineSet(stepPts(specResid),legendColors[2],1.7,{stepped:true,order:1}),
  lineSet(stepPts(specModel),legendColors[1],1.7,{stepped:true,order:2}),
  lineSet(stepPts(specData),legendColors[0],1.7,{stepped:true,order:3}),
  lineSet([{x:-401,y:0},{x:665,y:0}],'#222',1.2,{order:0}),
  lineSet([{x:0,y:-15.3},{x:0,y:29.7}],'#222',1.3,{order:0,borderDash:[7,4]})],
 x:axis({pos:'bottom',min:-401,max:665,ticks:specXTicks,labels:['0','500'],title:'Velocity [km/s]',size:45,padding:2,titleBottom:6}),
 y:axis({pos:'left',min:-15.3,max:29.7,ticks:specYTicks,labels:['20','10','0','\u221210'],title:'Flux Density [mJy]',size:64,padding:5})});
</script>
</body></html>
